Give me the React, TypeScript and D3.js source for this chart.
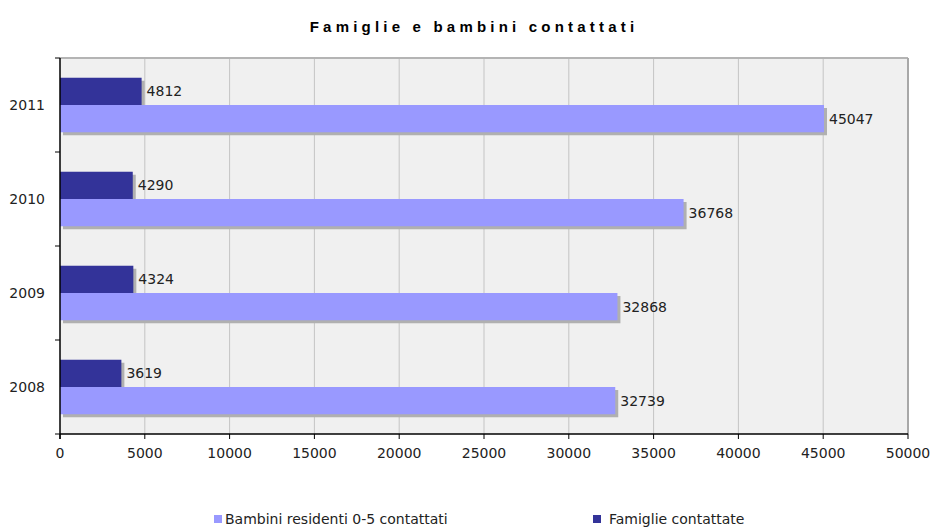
import * as d3 from "d3";

const years = ["2011", "2010", "2009", "2008"];
const famiglie = [4812, 4290, 4324, 3619];
const bambini = [45047, 36768, 32868, 32739];
const xTicks = [0, 5000, 10000, 15000, 20000, 25000, 30000, 35000, 40000, 45000, 50000];

const W = 930;
const H = 527;
const M = { top: 58, right: 22, bottom: 93, left: 60 };
const bw = W - M.left - M.right;
const bh = H - M.top - M.bottom;
const font = "'DejaVu Sans', Verdana, sans-serif";

export default function App() {
  const x = d3.scaleLinear().domain([0, 50000]).range([0, bw]);
  const y = d3.scaleBand().domain(years).range([0, bh]).paddingInner(0.42).paddingOuter(0.21);
  const inner = d3.scaleBand().domain(["f", "b"]).range([0, y.bandwidth()]);
  const rows = years.map((yr, i) => ({ yr, f: famiglie[i], b: bambini[i] }));
  const step = bh / years.length;

  return (
    <svg width={W} height={H} style={{ position: "absolute", left: 0, top: 0 }}>
      <rect width={W} height={H} fill="#fff" />
      <text x={474} y={32} textAnchor="middle" fontFamily="Arial, 'Liberation Sans', sans-serif"
        fontWeight="bold" fontSize={15} letterSpacing={4.2} fill="#000">
        Famiglie e bambini contattati
      </text>
      <g transform={`translate(${M.left},${M.top})`}>
        <rect width={bw} height={bh} fill="#f0f0f0" />
        {xTicks.slice(1).map((t) => (
          <line key={t} x1={x(t)} x2={x(t)} y1={0} y2={bh} stroke="#c4c4c4" strokeWidth={1} />
        ))}
        <line x1={0} x2={bw} y1={0} y2={0} stroke="#b4b4b4" strokeWidth={2} />
        {rows.map((r) => {
          const y0 = y(r.yr) ?? 0;
          const yf = y0 + (inner("f") ?? 0);
          const yb = y0 + (inner("b") ?? 0);
          const h = inner.bandwidth();
          return (
            <g key={r.yr}>
              <rect x={3} y={yb + 3} width={x(r.b)} height={h} fill="#b0b0b0" />
              <rect x={3} y={yf + 3} width={x(r.f)} height={h - 3} fill="#b0b0b0" />
              <rect x={0} y={yb} width={x(r.b)} height={h} fill="#9999ff" />
              <rect x={0} y={yf} width={x(r.f)} height={h} fill="#333399" />
              <text x={x(r.f) + 5} y={yf + h / 2} dy="0.36em" fontFamily={font} fontSize={14} fill="#222">{r.f}</text>
              <text x={x(r.b) + 5} y={yb + h / 2} dy="0.36em" fontFamily={font} fontSize={14} fill="#222">{r.b}</text>
              <text x={-15} y={y0 + y.bandwidth() / 2} dy="0.36em" textAnchor="end" fontFamily={font} fontSize={14} fill="#222">{r.yr}</text>
            </g>
          );
        })}
        {d3.range(years.length + 1).map((i) => (
          <line key={i} x1={-5} x2={0} y1={i * step} y2={i * step} stroke="#000" />
        ))}
        {xTicks.map((t) => (
          <g key={t}>
            <line x1={x(t)} x2={x(t)} y1={bh} y2={bh + 5} stroke="#000" />
            <text x={x(t)} y={bh + 24} textAnchor="middle" fontFamily={font} fontSize={14} fill="#222">{t}</text>
          </g>
        ))}
        <line x1={bw} x2={bw} y1={0} y2={bh} stroke="#a8a8a8" strokeWidth={2} />
        <line x1={0} x2={0} y1={0} y2={bh + 5} stroke="#000" strokeWidth={1.5} />
        <line x1={0} x2={bw} y1={bh} y2={bh} stroke="#000" strokeWidth={1.5} />
      </g>
      <rect x={214} y={515} width={8} height={8} fill="#9999ff" />
      <text x={225} y={524} fontFamily={font} fontSize={14} fill="#222">Bambini residenti 0-5 contattati</text>
      <rect x={593} y={515} width={8} height={8} fill="#333399" />
      <text x={609} y={524} fontFamily={font} fontSize={14} fill="#222">Famiglie contattate</text>
    </svg>
  );
}
